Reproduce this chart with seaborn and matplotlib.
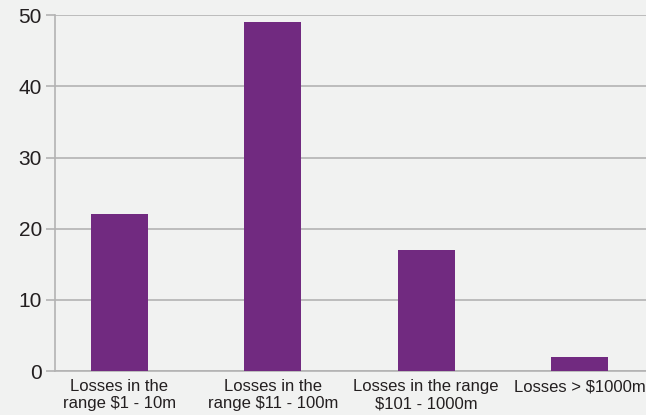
import matplotlib
matplotlib.use("Agg")
import matplotlib.pyplot as plt
import seaborn as sns
import pandas as pd

categories = ["Losses in the\nrange $1 - 10m", "Losses in the\nrange $11 - 100m",
              "Losses in the range\n$101 - 1000m", "Losses > $1000m"]
values = [22, 49, 17, 2]
yticks = [0, 10, 20, 30, 40, 50]

BG = "#f1f2f1"
BAR = "#712a80"
GRID = "#b3b3b3"
TXT = "#231f20"

sns.set_theme(style="white")
plt.rcParams["font.family"] = ["Liberation Sans", "DejaVu Sans"]

fig = plt.figure(figsize=(6.46, 4.15), dpi=100, facecolor=BG)
ax = fig.add_axes([55/646, 44/415, 1 - 55/646, (371 - 15.3)/415])
ax.set_facecolor(BG)

df = pd.DataFrame({"cat": categories, "val": values})
sns.barplot(data=df, x="cat", y="val", order=categories, color=BAR,
            width=0.37, saturation=1, ax=ax, zorder=3,
            edgecolor="none", linewidth=0)

ax.set_xlim(-0.42, 3.433)
ax.set_ylim(0, 50)
ax.set_yticks(yticks)
ax.set_yticklabels([str(t) for t in yticks], fontsize=15, color=TXT)
ax.yaxis.grid(True, color=GRID, linewidth=1.2, zorder=0)
ax.set_axisbelow(True)
ax.tick_params(axis="y", length=6.5, width=1.2, color=GRID, pad=3, left=True)
ax.tick_params(axis="x", length=0, pad=6)
for lab in ax.get_xticklabels():
    lab.set_fontfamily(["Liberation Sans Narrow", "Liberation Sans", "DejaVu Sans"])
    lab.set_fontsize(12)
    lab.set_color(TXT)
    lab.set_linespacing(1.15)
ax.set_xlabel("")
ax.set_ylabel("")
for s in ["top", "right"]:
    ax.spines[s].set_visible(False)
ax.spines["left"].set_color(GRID)
ax.spines["left"].set_linewidth(1.2)
ax.spines["bottom"].set_color(GRID)
ax.spines["bottom"].set_linewidth(1.2)

fig.savefig("out.png", dpi=100, facecolor=BG)
